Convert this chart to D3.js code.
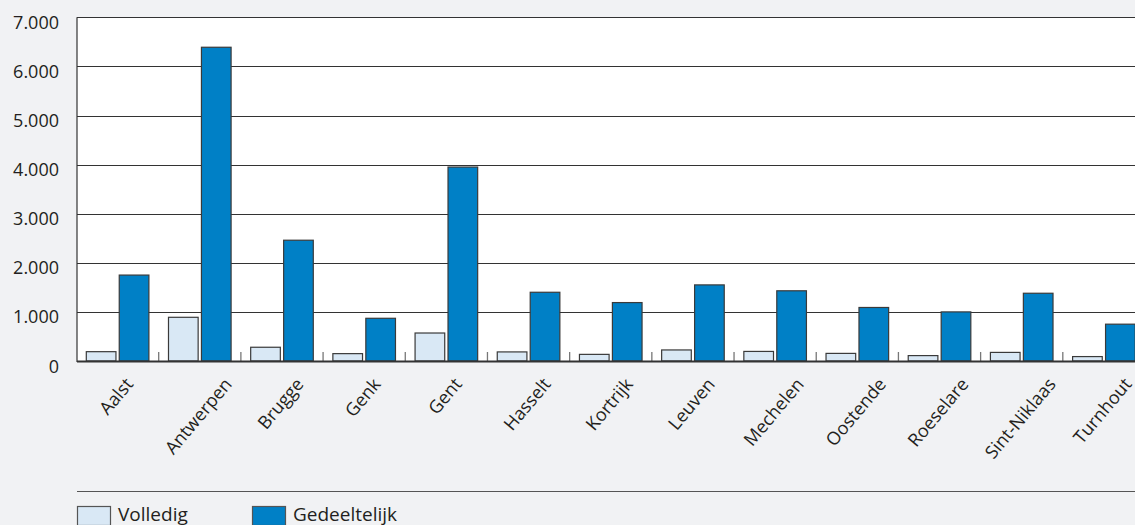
<!DOCTYPE html>
<html>
<head>
<meta charset="utf-8">
<script src="https://cdn.jsdelivr.net/npm/d3@7"></script>
<style>
  html, body { margin: 0; padding: 0; background: #f1f2f4; }
  svg { display: block; }
  text { font-family: "Open Sans", sans-serif; fill: #231f20; }
</style>
</head>
<body>
<svg id="chart" width="1135" height="525"></svg>
<script>
const categories = ["Aalst", "Antwerpen", "Brugge", "Genk", "Gent", "Hasselt", "Kortrijk", "Leuven", "Mechelen", "Oostende", "Roeselare", "Sint-Niklaas", "Turnhout"];
const seriesNames = ["Volledig", "Gedeeltelijk"];
const volledig = [190, 890, 280, 150, 570, 185, 135, 225, 195, 155, 110, 175, 90];
const gedeeltelijk = [1750, 6390, 2460, 870, 3950, 1400, 1190, 1550, 1430, 1090, 1000, 1380, 750];
const yTicks = [0, 1000, 2000, 3000, 4000, 5000, 6000, 7000];
const yTickLabels = ["0", "1.000", "2.000", "3.000", "4.000", "5.000", "6.000", "7.000"];
const colors = ["#d9e8f5", "#0080c6"];

(function () {
const svg = d3.select("#chart");
const W = 1135;
const plotLeft = 77, plotTop = 17.3, plotBottom = 361;
const xEnd = 1145;

const x0 = d3.scaleBand().domain(categories).range([76.5, xEnd]).padding(0);
const x1 = d3.scaleBand().domain(seriesNames).range([9.8, 72.4]).paddingInner(0.1).paddingOuter(0);
const y = d3.scaleLinear().domain([0, 7000]).range([plotBottom, plotTop]);

// plot background
svg.append("rect").attr("x", plotLeft).attr("y", plotTop).attr("width", W - plotLeft).attr("height", plotBottom - plotTop).attr("fill", "#ffffff");

// gridlines
svg.append("g").selectAll("line").data(yTicks).join("line")
  .attr("x1", plotLeft).attr("x2", W)
  .attr("y1", d => Math.round(y(d)) + 0.5).attr("y2", d => Math.round(y(d)) + 0.5)
  .attr("stroke", "#333").attr("stroke-width", 1.2);

// y labels
svg.append("g").selectAll("text").data(yTicks).join("text")
  .attr("x", 59).attr("y", d => y(d) + 4.5)
  .attr("text-anchor", "end").attr("dominant-baseline", "central")
  .style("font-size", "18px")
  .text((d, i) => yTickLabels[i]);

// category ticks
svg.append("g").selectAll("line").data(categories.slice(1)).join("line")
  .attr("x1", d => x0(d)).attr("x2", d => x0(d))
  .attr("y1", plotBottom - 9).attr("y2", plotBottom)
  .attr("stroke", "#777").attr("stroke-width", 1.3);

// bars
const data = categories.map((c, i) => ({ cat: c, vals: [volledig[i], gedeeltelijk[i]] }));
const groups = svg.append("g").selectAll("g").data(data).join("g")
  .attr("transform", d => `translate(${x0(d.cat)},0)`);
groups.selectAll("rect").data(d => d.vals.map((v, j) => ({ s: seriesNames[j], v, j }))).join("rect")
  .attr("x", d => x1(d.s))
  .attr("y", d => y(d.v))
  .attr("width", x1.bandwidth())
  .attr("height", d => plotBottom - y(d.v))
  .attr("fill", d => colors[d.j])
  .attr("stroke", "#3a3a3a").attr("stroke-width", 1.2);

// left axis line and baseline
svg.append("line").attr("x1", plotLeft).attr("x2", plotLeft).attr("y1", plotTop).attr("y2", plotBottom + 1)
  .attr("stroke", "#333").attr("stroke-width", 1.2);
svg.append("line").attr("x1", plotLeft).attr("x2", W).attr("y1", plotBottom + 0.5).attr("y2", plotBottom + 0.5)
  .attr("stroke", "#333").attr("stroke-width", 1.8);

// x labels rotated
const ang = 50 * Math.PI / 180;
const xl = svg.append("g").selectAll("text").data(categories).join("text")
  .attr("text-anchor", "middle").attr("dominant-baseline", "central")
  .style("font-size", "18px")
  .text(d => d);
xl.each(function (d) {
  const w = this.getComputedTextLength();
  const h = 13;
  const bh = w * Math.sin(ang) + h * Math.cos(ang);
  const bw = w * Math.cos(ang) + h * Math.sin(ang);
  let cx = x0(d) + x0.bandwidth() / 2 - 2;
  cx = Math.min(cx, W - 2 - bw / 2);
  const cy = 376 + bh / 2;
  d3.select(this).attr("transform", `translate(${cx},${cy}) rotate(-50)`);
});

// legend
svg.append("line").attr("x1", plotLeft).attr("x2", W).attr("y1", 491.5).attr("y2", 491.5)
  .attr("stroke", "#555").attr("stroke-width", 1.2);
const legX = [77, 252];
const leg = svg.append("g").selectAll("g").data(seriesNames).join("g")
  .attr("transform", (d, i) => `translate(${legX[i]},506)`);
leg.append("rect").attr("x", 0.5).attr("y", 0.5).attr("width", 33).attr("height", 19)
  .attr("fill", (d, i) => colors[i]).attr("stroke", "#555").attr("stroke-width", 1.2);
leg.append("text").attr("x", 41).attr("y", 14.5).style("font-size", "19px").text(d => d);
})();
</script>
</body>
</html>
